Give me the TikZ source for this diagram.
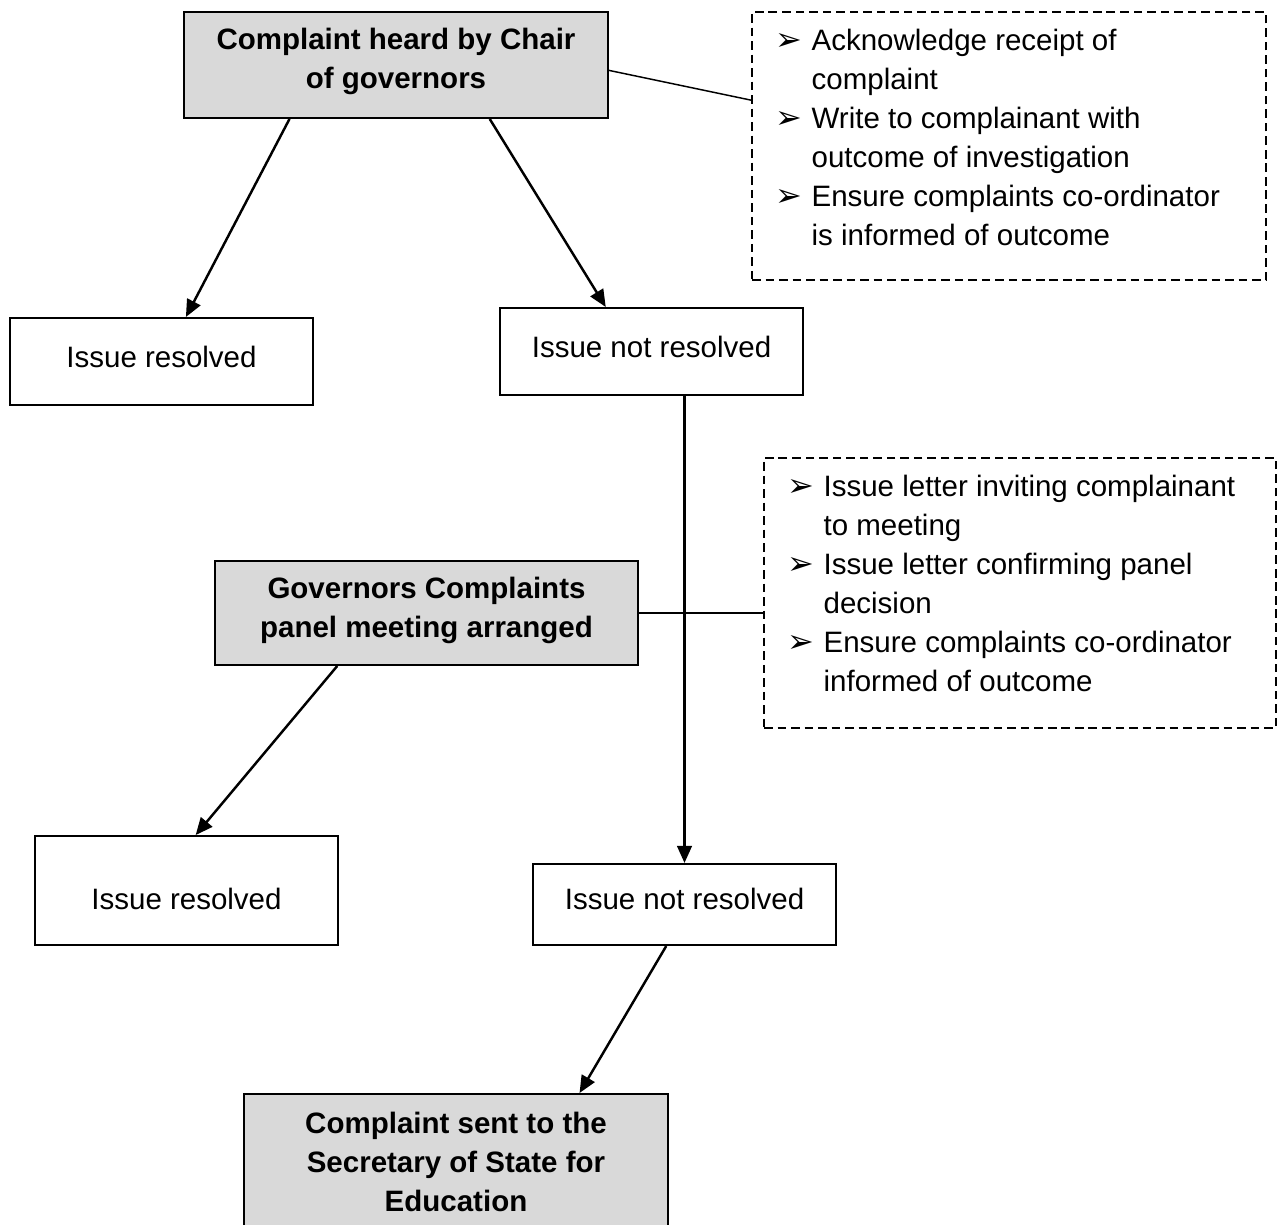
\documentclass[tikz,border=0pt]{standalone}
\usepackage{fontspec}
\setmainfont{Liberation Sans}
\newfontfamily\bulletfont{DejaVu Sans}
\usetikzlibrary{arrows.meta,calc}
\newcommand{\itm}{\strut\makebox[14.6pt][l]{\bulletfont\fontsize{13}{13}\selectfont ➢}}
\newcommand{\ind}{\hspace*{14.6pt}}

\begin{document}
\begin{tikzpicture}[x=0.4068pt,y=-0.4068pt,font=\fontsize{12}{15.9}\selectfont,
  box/.style={draw,line width=0.8pt,minimum width=123.3pt,align=center,inner sep=0pt},
  greybox/.style={box,fill=gray!30,minimum width=172.5pt,font=\fontsize{12}{15.9}\selectfont\bfseries},
  dashbox/.style={draw,dashed,dash pattern=on 3.5pt off 2pt,line width=0.6pt},
  listtext/.style={anchor=north west,align=left,inner sep=0pt},
  arr/.style={-{Triangle[length=7pt,width=6pt]},line width=1pt}]
 \useasboundingbox (0,0) rectangle (1279,1224);
 \node[greybox,minimum height=43.1pt,text depth=5.7pt] (chair) at (396,65) {Complaint heard by Chair\\of governors};
 \node[box,minimum height=35.4pt,text depth=4pt] (res1) at (161.5,361.5) {Issue resolved};
 \node[box,minimum height=35.4pt,text depth=4pt] (notres1) at (651.5,351.5) {Issue not resolved};
 \node[greybox,minimum width=172.1pt,minimum height=42.3pt,text depth=4.5pt] (panel) at (426.5,613) {Governors Complaints\\panel meeting arranged};
 \node[box,minimum height=44.3pt,text height=15.4pt,text depth=0pt] (res2) at (186.5,890.5) {Issue resolved};
 \node[box,minimum height=33pt,text depth=4.8pt] (notres2) at (684.5,904.5) {Issue not resolved};
 \node[greybox,minimum height=64.3pt,text depth=9pt] (sos) at (456,1173) {Complaint sent to the\\Secretary of State for\\Education};
 \node[dashbox,minimum width=209.1pt,minimum height=109pt] (todo1) at (1009,146) {};
 \node[listtext] (list1) at ($(todo1.north west)+(24,11)$)
   {\itm Acknowledge receipt of\\\ind complaint\\\itm Write to complainant with\\\ind outcome of investigation\\\itm Ensure complaints co-ordinator\\\ind is informed of outcome};
 \node[dashbox,minimum width=208.3pt,minimum height=109.8pt] (todo2) at (1020,593) {};
 \node[listtext] (list2) at ($(todo2.north west)+(24,11)$)
   {\itm Issue letter inviting complainant\\\ind to meeting\\\itm Issue letter confirming panel\\\ind decision\\\itm Ensure complaints co-ordinator\\\ind informed of outcome};
 \draw[arr] ($(chair.south west)!.25!(chair.south east)$) -- ($(res1.north west)!.58!(res1.north east)$);
 \draw[arr] ($(chair.south west)!.72!(chair.south east)$) -- ($(notres1.north west)!.35!(notres1.north east)$);
 \draw[arr] (notres1.south -| notres2.north) -- (notres2.north);
 \draw[arr] ($(panel.south west)!.29!(panel.south east)$) -- ($(res2.north west)!.53!(res2.north east)$);
 \draw[arr] ($(notres2.south west)!.44!(notres2.south east)$) -- ($(sos.north west)!.79!(sos.north east)$);
 \draw[line width=0.6pt] ($(chair.north east)!.55!(chair.south east)$) -- ($(todo1.north west)!.33!(todo1.south west)$);
 \draw[line width=0.6pt] (panel.east) -- (panel.east -| todo2.west);
\end{tikzpicture}
\end{document}
